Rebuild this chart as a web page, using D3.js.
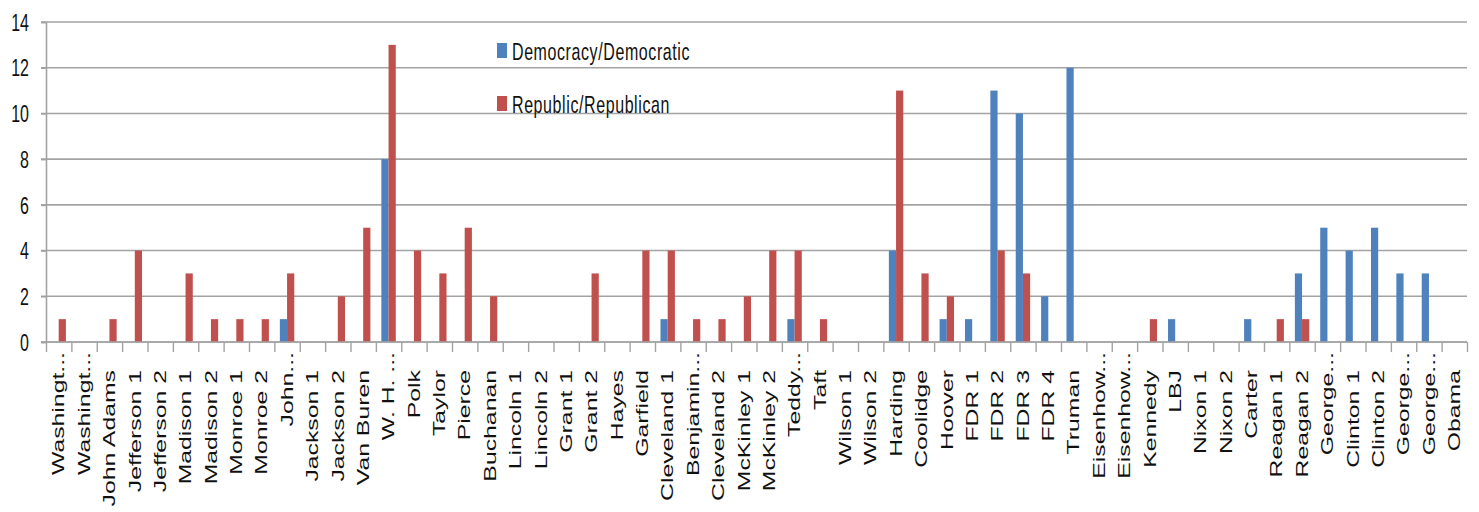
<!DOCTYPE html>
<html>
<head>
<meta charset="utf-8">
<script src="https://cdn.jsdelivr.net/npm/d3@7"></script>
<style>
  html, body { margin: 0; padding: 0; background: #fff; }
  svg { display: block; font-family: "Liberation Sans", Arial, sans-serif; }
</style>
</head>
<body>
<div id="chart"></div>
<script>
const categories = [
  "Washingt...", "Washingt...", "John Adams", "Jefferson 1", "Jefferson 2", "Madison 1", "Madison 2",
  "Monroe 1", "Monroe 2", "John...", "Jackson 1", "Jackson 2", "Van Buren", "W. H. ...", "Polk",
  "Taylor", "Pierce", "Buchanan", "Lincoln 1", "Lincoln 2", "Grant 1", "Grant 2", "Hayes", "Garfield",
  "Cleveland 1", "Benjamin...", "Cleveland 2", "McKinley 1", "McKinley 2", "Teddy...", "Taft",
  "Wilson 1", "Wilson 2", "Harding", "Coolidge", "Hoover", "FDR 1", "FDR 2", "FDR 3", "FDR 4",
  "Truman", "Eisenhow...", "Eisenhow...", "Kennedy", "LBJ", "Nixon 1", "Nixon 2", "Carter",
  "Reagan 1", "Reagan 2", "George...", "Clinton 1", "Clinton 2", "George...", "George...", "Obama"
];
const democratic = [
  0, 0, 0, 0, 0, 0, 0, 0, 0, 1, 0, 0, 0, 8, 0, 0, 0, 0, 0, 0, 0, 0, 0, 0, 1, 0, 0, 0,
  0, 1, 0, 0, 0, 4, 0, 1, 1, 11, 10, 2, 12, 0, 0, 0, 1, 0, 0, 1, 0, 3, 5, 4, 5, 3, 3, 0
];
const republican = [
  1, 0, 1, 4, 0, 3, 1, 1, 1, 3, 0, 2, 5, 13, 4, 3, 5, 2, 0, 0, 0, 3, 0, 4, 4, 1, 1, 2,
  4, 4, 1, 0, 0, 11, 3, 2, 0, 4, 3, 0, 0, 0, 0, 1, 0, 0, 0, 0, 1, 1, 0, 0, 0, 0, 0, 0
];
const seriesNames = ["Democracy/Democratic", "Republic/Republican"];
const seriesColors = ["#4f81bd", "#c0504d"];
const yTicks = [0, 2, 4, 6, 8, 10, 12, 14];

const W = 1479, H = 512;
const plotLeft = 46, plotRight = 1467, plotTop = 22, plotBottom = 342;
const stretch = 1.5; // the picture is stretched vertically

const svg = d3.select("#chart").append("svg")
  .attr("width", W).attr("height", H);

const x = d3.scaleBand()
  .domain(d3.range(categories.length))
  .range([plotLeft, plotRight])
  .padding(0);

const xi = d3.scaleLinear()
  .domain([0, categories.length])
  .range([plotLeft, plotRight]);

const x1 = d3.scaleBand()
  .domain([0, 1])
  .range([0, x.bandwidth()])
  .paddingInner(0)
  .paddingOuter(0.76);

const y = d3.scaleLinear()
  .domain([0, 14])
  .range([plotBottom, plotTop]);

// grid
svg.append("g")
  .selectAll("line")
  .data(yTicks)
  .enter()
  .append("line")
  .attr("x1", plotLeft - 5)
  .attr("x2", plotRight)
  .attr("y1", d => y(d))
  .attr("y2", d => y(d))
  .attr("stroke", "#a3a3a3")
  .attr("stroke-width", 1.6);

// y axis
const yAxis = svg.append("g")
  .attr("transform", `translate(${plotLeft},0)`)
  .call(d3.axisLeft(y).tickValues(yTicks).tickSize(5).tickPadding(12));
yAxis.select(".domain").attr("stroke", "#a3a3a3").attr("stroke-width", 1.6);
yAxis.selectAll(".tick line").attr("stroke", "#a3a3a3").attr("stroke-width", 1.6);
yAxis.selectAll("text")
  .style("font-size", "16px")
  .attr("fill", "#111")
  .attr("dy", "0.34em")
  .attr("transform", `scale(1,${stretch})`);

// bars
const data = categories.map((c, i) => ({ i, values: [democratic[i], republican[i]] }));
const groups = svg.append("g")
  .selectAll("g")
  .data(data)
  .enter()
  .append("g")
  .attr("transform", d => `translate(${x(d.i)},0)`);

groups.selectAll("rect")
  .data(d => d.values.map((v, k) => ({ k, v })).filter(d => d.v > 0))
  .enter()
  .append("rect")
  .attr("x", d => x1(d.k))
  .attr("width", x1.bandwidth())
  .attr("y", d => y(d.v))
  .attr("height", d => y(0) - y(d.v))
  .attr("fill", d => seriesColors[d.k]);

// x axis: boundary ticks
const xTicks = svg.append("g")
  .attr("transform", `translate(0,${plotBottom})`)
  .call(d3.axisBottom(xi).tickValues(d3.range(categories.length + 1)).tickSize(10).tickFormat(""));
xTicks.select(".domain").remove();
xTicks.selectAll(".tick line").attr("stroke", "#a3a3a3").attr("stroke-width", 1.4);

svg.append("line")
  .attr("x1", plotLeft - 5).attr("x2", plotRight)
  .attr("y1", y(0)).attr("y2", y(0))
  .attr("stroke", "#a3a3a3").attr("stroke-width", 1.6);

// x axis: labels
const xLabels = svg.append("g")
  .attr("transform", `translate(0,${plotBottom})`)
  .call(d3.axisBottom(x).tickSize(0).tickFormat(i => categories[i]));
xLabels.select(".domain").remove();
const labelStretch = 1.55;
xLabels.selectAll("text")
  .style("font-size", "16px")
  .attr("fill", "#111")
  .attr("text-anchor", "end")
  .attr("x", i => categories[i].endsWith("...") ? -10 / labelStretch : -28 / labelStretch)
  .attr("y", 0)
  .attr("dy", "0.36em")
  .attr("transform", `rotate(-90) scale(${labelStretch},1)`);

// legend
const legend = svg.append("g")
  .selectAll("g")
  .data(seriesNames)
  .enter()
  .append("g")
  .attr("transform", (d, i) => `translate(497,${43 + i * 53})`);

legend.append("rect")
  .attr("width", 10)
  .attr("height", 15)
  .attr("fill", (d, i) => seriesColors[i]);

legend.append("text")
  .attr("x", 15)
  .attr("y", 11.5)
  .attr("transform", `scale(1,${stretch})`)
  .style("font-size", "16px")
  .style("letter-spacing", "0.6px")
  .attr("fill", "#111")
  .text(d => d);
</script>
</body>
</html>
